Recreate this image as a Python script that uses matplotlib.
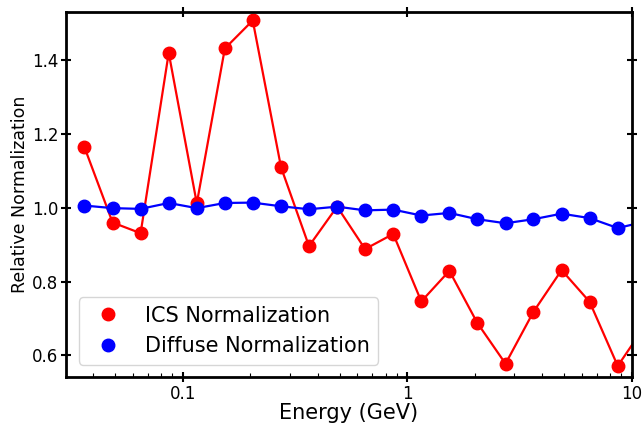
import numpy as np
import matplotlib
matplotlib.use("Agg")
import matplotlib.pyplot as plt

# energy bin centres (GeV), 8 per decade
energy = [0.0365, 0.0487, 0.0649, 0.0866, 0.1155, 0.154, 0.205, 0.274, 0.365, 0.487,
          0.649, 0.866, 1.155, 1.54, 2.05, 2.74, 3.65, 4.87, 6.49, 8.66, 11.55]

ics_norm = [1.164, 0.960, 0.931, 1.420, 1.012, 1.432, 1.508, 1.110, 0.896, 1.003,
            0.888, 0.929, 0.746, 0.829, 0.688, 0.577, 0.718, 0.831, 0.745, 0.571, 0.683]

diffuse_norm = [1.006, 0.999, 0.997, 1.013, 0.999, 1.013, 1.014, 1.004, 0.996, 1.003,
                0.993, 0.995, 0.979, 0.986, 0.969, 0.958, 0.969, 0.984, 0.972, 0.945, 0.963]

fig = plt.figure(figsize=(6.44, 4.26), dpi=100)
ax = fig.add_axes([0.1025, 0.115, 0.8785, 0.856])

ax.plot(energy, ics_norm, '-', color='red', lw=1.6)
ax.plot(energy, diffuse_norm, '-', color='blue', lw=1.6)
ax.plot(energy, ics_norm, 'o', color='red', ms=9, label='ICS Normalization')
ax.plot(energy, diffuse_norm, 'o', color='blue', ms=9, label='Diffuse Normalization')

ax.set_xscale('log')
ax.set_xlim(0.0302, 10)
ax.set_ylim(0.541, 1.530)
ax.set_yticks([0.6, 0.8, 1.0, 1.2, 1.4])
ax.set_xticks([0.1, 1, 10])
ax.set_xticklabels(['0.1', '1', '10'])

for s in ax.spines.values():
    s.set_linewidth(2)
ax.tick_params(which='major', direction='inout', length=7, width=1.5,
               top=True, right=True, labelsize=12, pad=2)
ax.tick_params(which='minor', direction='in', length=3, width=0.8, top=False, right=False)

ax.set_xlabel('Energy (GeV)', fontsize=15, labelpad=0)
ax.set_ylabel('Relative Normalization', fontsize=12.5, labelpad=2)
ax.legend(loc='lower left', fontsize=15, numpoints=1, borderaxespad=0.6)

fig.savefig('out.png', dpi=100)
